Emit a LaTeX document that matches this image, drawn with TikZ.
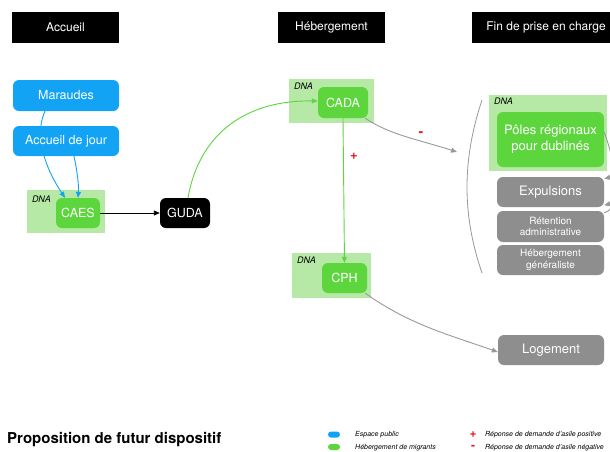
\documentclass[tikz,border=0pt]{standalone}
\usepackage{fontspec}
\setmainfont{TeX Gyre Heros}
\usetikzlibrary{arrows.meta,backgrounds}
\definecolor{cblue}{HTML}{12A3F5}
\definecolor{cgreen}{HTML}{5DD63E}
\definecolor{clight}{HTML}{B6E8A6}
\definecolor{cgray}{HTML}{8E8E8E}
\definecolor{carrow}{HTML}{999999}
\definecolor{cred}{HTML}{E8141B}
\tikzset{
  hdr/.style={fill=black, text=white, minimum width=107pt, minimum height=31pt, inner sep=0pt, font=\fontsize{12}{14}\selectfont},
  box/.style={rounded corners=6pt, text=white, inner sep=0pt, align=center, font=\fontsize{12.5}{14}\selectfont},
  bluebox/.style={box, fill=cblue},
  greenbox/.style={box, fill=cgreen},
  graybox/.style={box, fill=cgray},
  blackbox/.style={box, fill=black},
  dnabg/.style={fill=clight, inner sep=0pt},
  dnalabel/.style={anchor=north west, inner sep=0pt, font=\fontsize{9}{10}\selectfont\itshape},
  tip/.style={-{Triangle[length=6pt,width=5pt]}},
  bluearrow/.style={tip, draw=cblue, line width=0.9pt},
  greenarrow/.style={tip, draw=cgreen, line width=0.9pt},
  grayarrow/.style={tip, draw=carrow, line width=0.9pt},
  blackarrow/.style={tip, draw=black, line width=0.9pt},
  sign/.style={text=cred, inner sep=0pt, font=\fontsize{13}{13}\selectfont\bfseries},
  legtext/.style={anchor=west, inner sep=0pt, font=\fontsize{7}{8}\selectfont\itshape},
  pill/.style={rounded corners=3pt, minimum width=12pt, minimum height=6pt, inner sep=0pt},
}
\begin{document}
\begin{tikzpicture}[x=1pt,y=-1pt]
\path[use as bounding box, clip] (0,0) rectangle (610,451);

% headers
\node[hdr] (h1) at (65.5,27.5) {Accueil};
\node[hdr] (h2) at (331.5,27.5) {Hébergement};
\node[hdr, minimum width=148pt] (h3) at (546,27.5) {Fin de prise en charge};

% left column
\node[bluebox, minimum width=106pt, minimum height=31pt] (mar) at (66,95.5) {Maraudes};
\node[bluebox, minimum width=106pt, minimum height=30pt] (accj) at (66,141) {Accueil de jour};
\node[greenbox, minimum width=44pt, minimum height=30pt] (caes) at (78,213) {CAES};
\node[blackbox, minimum width=50pt, minimum height=30pt] (guda) at (185,213) {GUDA};

% middle column
\node[greenbox, minimum width=50pt, minimum height=31pt] (cada) at (343,102.5) {CADA};
\node[greenbox, minimum width=45pt, minimum height=30pt] (cph) at (344.5,278) {CPH};

% right column
\node[greenbox, minimum width=107pt, minimum height=55pt, font=\fontsize{13}{16}\selectfont] (poles) at (550.5,139.5) {Pôles régionaux\\pour dublinés};
\node[graybox, minimum width=107pt, minimum height=30pt, font=\fontsize{13}{15}\selectfont] (expul) at (550.5,192) {Expulsions};
\node[graybox, minimum width=107pt, minimum height=31pt, font=\fontsize{10}{11.5}\selectfont] (ret) at (550.5,226.5) {Rétention\\administrative};
\node[graybox, minimum width=107pt, minimum height=30pt, font=\fontsize{10}{11.5}\selectfont] (hebg) at (550.5,260) {Hébergement\\généraliste};
\node[graybox, minimum width=106pt, minimum height=30pt, font=\fontsize{13}{15}\selectfont] (loge) at (551,350) {Logement};

% bracket
\coordinate (btop) at (482,100);
\coordinate (bbot) at (482,273);
\coordinate (brk) at (457,152);
\draw[carrow, line width=0.8pt] (btop) .. controls (462,160) and (462,215) .. (bbot);

% labels
\node[sign] (plus) at (354,156) {+};
\node[sign, font=\fontsize{14}{14}\selectfont\bfseries] (minus) at (421,134) {-};

\begin{scope}[on background layer]
  \fill[white] (0,0) rectangle (610,451);
  \node[dnabg, minimum width=78pt, minimum height=43pt] (dna1) at (66,211.5) {};
  \node[dnabg, minimum width=85pt, minimum height=44pt] (dna2) at (331.5,101) {};
  \node[dnabg, minimum width=79pt, minimum height=45pt] (dna3) at (331.5,275.5) {};
  \node[dnabg, minimum width=118pt, minimum height=76pt] (dna4) at (548,133) {};
  \node[dnalabel] (l1) at ([shift={(5pt,-6pt)}]dna1.north west) {DNA};
  \node[dnalabel] (l2) at ([shift={(5pt,-4pt)}]dna2.north west) {DNA};
  \node[dnalabel] (l3) at ([shift={(5pt,-4pt)}]dna3.north west) {DNA};
  \node[dnalabel] (l4) at ([shift={(5pt,-3pt)}]dna4.north west) {DNA};

  \draw[bluearrow] ([xshift=-21pt]mar.south) .. controls (36,130) and (40,160) .. ([xshift=-13pt]caes.north);
  \draw[bluearrow] ([xshift=8pt]accj.south) .. controls (77,170) and (79,185) .. (caes.north);
  \draw[blackarrow] (caes.east) -- (guda.west);
  \draw[greenarrow] ([xshift=3pt]guda.north) .. controls (200,130) and (250,100) .. ([yshift=1.5pt]cada.west);
  \draw[greenarrow] (cada.south) -- (cph.north);
  \draw[grayarrow] ([xshift=-3pt]cada.south east) .. controls (390,135) and (420,140) .. (brk);
  \draw[grayarrow] ([xshift=-2pt]cph.south east) .. controls (410,325) and (450,335) .. ([yshift=-2pt]loge.west);
  \draw[grayarrow] ([yshift=-20pt]poles.north east) .. controls (616,166) and (615,176) .. ([yshift=-2pt]expul.north east);
  \draw[grayarrow] ([yshift=-2pt]ret.north east) .. controls (613,210) and (613,203) .. ([yshift=2pt]expul.south east);
\end{scope}

% bottom
\node[anchor=west, inner sep=0pt, font=\fontsize{15}{17}\selectfont\bfseries] (title) at (7,440) {Proposition de futur dispositif};

\node[pill, fill=cblue] (pb) at (334,434.5) {};
\node[pill, fill=cgreen] (pg) at (334,447) {};
\node[legtext] (t1) at (355,435) {Espace public};
\node[legtext] (t2) at (355,448) {Hébergement de migrants};
\node[sign, font=\fontsize{12}{12}\selectfont\bfseries] (lp) at (473,434.5) {+};
\node[sign, font=\fontsize{12}{12}\selectfont\bfseries] (lm) at (473,447.5) {-};
\node[legtext] (t3) at (485,435) {Réponse de demande d'asile positive};
\node[legtext] (t4) at (485,448) {Réponse de demande d'asile négative};
\end{tikzpicture}
\end{document}
